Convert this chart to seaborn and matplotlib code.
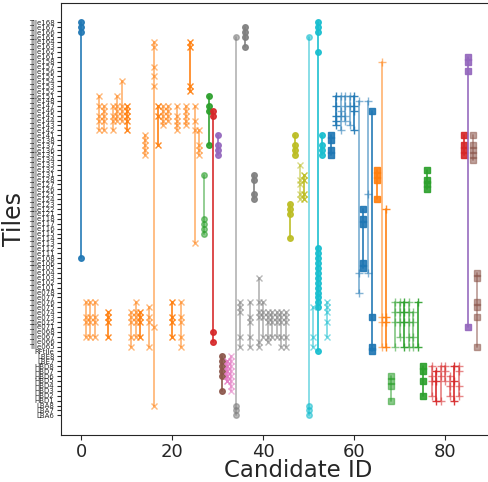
import matplotlib
matplotlib.use("Agg")
import matplotlib.pyplot as plt
import seaborn as sns
import pandas as pd

# ---------------- data ----------------
upper_numbers = [168, 167, 166, 165, 164, 163, 162, 161,
                 158, 157, 156, 155, 154, 153, 152, 151,
                 148, 147, 146, 145, 144, 143, 142, 141,
                 138, 137, 136, 135, 134, 133, 132, 131,
                 128, 127, 126, 125, 124, 123, 122, 121,
                 118, 117, 116, 115, 114, 113, 112, 111,
                 108, 106, 105, 104, 103, 102, 101,
                 78, 77, 76, 75, 74, 73, 72, 71,
                 68, 67, 66, 65]
lower_tiles = ["RFtile", "LBE8", "LBE7", "HBD8", "HBD7", "HBD6", "HBD5",
               "HBD4", "HBD3", "HBD2", "HBD1", "LBA8", "LBA7", "LBA6"]
tile_order = [f"Tile{n:03d}" for n in upper_numbers] + lower_tiles

# tiles hit by each candidate (index = candidate ID)
cand_tiles = [
    "168 167 166 108",
    "076 073 072 067", "076 073 072 067", "076 073 072 067",
    "151 147 145 144 142", "147 146 145 144 142",
    "074 073 072 067",
    "147 145 144 142", "151 147 146 145 144", "154 147 146 145 144",
    "147 146 145 144 142",
    "074 073 072 067 065", "076 074 073 072 067", "074 073 072 067",
    "141 138 137 136 135",
    "075 073 072 065",
    "164 163 157 155 153 071 LBA8",
    "147 145 137", "147 146 145 144 143", "147 146 145 144",
    "076 073 072 067",
    "147 145 144 143 142",
    "076 073 072 067 065",
    "147 146 145 144 143",
    "164 163 153 152",
    "147 144 142 113",
    "142 137 136 135",
    "131 118 117 116 115",
    "151 147 146 137",
    "146 145 068 066",
    "141 137 136 135",
    "LBE8 LBE7 HBD8 HBD7 HBD6 HBD3",
    "LBE7 HBD8 HBD7 HBD6 HBD5",
    "LBE8 LBE7 HBD8 HBD7 HBD6 HBD5 HBD4 HBD3",
    "165 LBA8 LBA7 LBA6",
    "076 075 074 067 065",
    "167 166 165 163",
    "076 073 072 067 065",
    "131 128 125 124",
    "103 076 074 073 066 065",
    "076 074 073 067",
    "074 073 072 067 066", "074 073 072 067", "074 073 072 067",
    "074 073 072 067 065", "074 073 072 067 065",
    "123 122 121 114",
    "141 137 136 135",
    "133 128 127 125 124",
    "131 128 125 124",
    "165 LBA8 LBA7 LBA6",
    "075 067 065",
    "168 167 166 162 112 111 108 106 105 104 103 102 101 078 077 076 075 RFtile",
    "141 137 136 135",
    "076 075 074 072 067",
    "141 138 136 135",
    "151 147 145 144 143", "151 146 145 142", "151 147 145 144",
    "151 147 143", "151 147 146 142",
    "148 104 078",
    "122 118 117 106 105",
    "148 125 104",
    "146 073 065 RFtile",
    "132 131 128 124",
    "158 073 072 065",
    "122 073 072 065",
    "HBD6 HBD5 HBD4 HBD1",
    "076 074 072 065", "076 074 072 067", "076 074 072 065",
    "076 074 072 067 065", "074 072 067 065", "076 065",
    "HBD8 HBD7 HBD5 HBD2",
    "132 128 127 126",
    "HBD8 HBD6 HBD5 HBD2", "HBD7 HBD5 HBD1", "HBD8 HBD6 HBD1",
    "HBD8 HBD7 HBD5", "HBD6 HBD4 HBD2", "HBD8 HBD5 HBD1",
    "HBD8 HBD7 HBD4 HBD2",
    "141 137 136 135",
    "161 158 156 071",
    "141 137 136 135 134",
    "104 103 076 075 073 065",
]

# colour group (tab10 index) of each candidate
cand_group = ([0] + [1] * 26 + [2] * 2 + [3] + [4] + [5] + [6] * 2 + [7] * 12
              + [8] * 4 + [9] * 5 + [0] * 10 + [1] * 3 + [2] * 9 + [3] * 8
              + [4] + [5] * 2)
# candidates drawn with filled markers (others with crosses)
solid_ids = {0, 27, 28, 29, 30, 31, 34, 36, 38, 46, 47, 50, 52, 53, 55, 62, 64,
             65, 68, 75, 76, 84, 85, 86, 87}
second_cycle_start = 55
light_ids = {1, 2, 3, 4, 5, 7, 8, 9, 11, 12, 14, 15, 16, 18, 19, 21, 22, 23, 25,
             26, 27, 33, 34, 35, 37, 39, 40, 41, 42, 43, 44, 45, 48, 50, 51, 54,
             57, 58, 59, 61, 63, 66, 68, 69, 70, 72, 73, 77, 79, 80, 81, 83, 86, 87}

# ---------------- table ----------------
rows = []
for cid, s in enumerate(cand_tiles):
    for tok in s.split():
        name = f"Tile{tok}" if tok.isdigit() else tok
        rows.append({"cand": cid, "tile": name})
df = pd.DataFrame(rows)
pos_of = {t: i for i, t in enumerate(tile_order)}
df["pos"] = df["tile"].map(pos_of)

# ---------------- plot ----------------
sns.set_style("ticks")
plt.rcParams["font.family"] = ["DejaVu Sans"]
pal = sns.color_palette("tab10")

fig = plt.figure(figsize=(4.89, 4.82), dpi=100)
ax = fig.add_axes([0.1254, 0.0975, 0.9687, 0.897])

for cid, sub in df.groupby("cand"):
    col = pal[cand_group[cid]]
    second = cid >= second_cycle_start
    if cid in solid_ids:
        mk, ms = ("s", 4.5) if second else ("o", 4.0)
    else:
        mk, ms = ("+", 5.5) if second else ("x", 4.0)
    a = 0.55 if cid in light_ids else 0.9
    sns.lineplot(data=sub, x="cand", y="pos", orient="y", sort=True,
                 estimator=None, color=col, marker=mk, markersize=ms,
                 mec=col, mew=1.0, alpha=a, lw=1.3, ax=ax, legend=False)

ax.set_xlim(-4.33, 99.7)
ax.set_ylim(len(tile_order) - 1 + 4, -4)
ax.set_yticks(range(len(tile_order)))
ax.set_yticklabels(tile_order, fontsize=5)
ax.tick_params(axis="y", length=3, pad=2)
ax.set_xticks([0, 20, 40, 60, 80])
ax.tick_params(axis="x", labelsize=13, pad=2)
ax.set_xlabel("Candidate ID", fontsize=16.5, labelpad=-1)
ax.set_ylabel("Tiles", fontsize=17, labelpad=2)

fig.savefig("out.png", dpi=100)
